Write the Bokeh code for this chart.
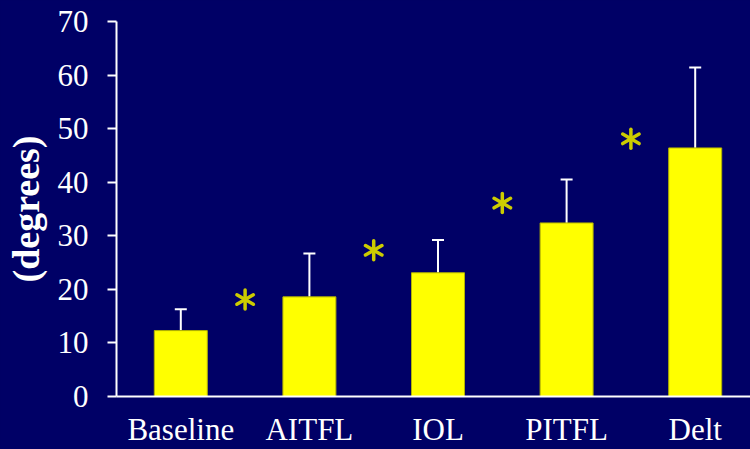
from bokeh.plotting import figure
from bokeh.models import (ColumnDataSource, Range1d, FixedTicker, Whisker, TeeHead,
                          GlobalInlineStyleSheet)
from bokeh.embed import file_html
from bokeh.resources import INLINE

# ---- data ----
categories = ["Baseline", "AITFL", "IOL", "PITFL", "Delt"]
means = [12.3, 18.6, 23.1, 32.4, 46.4]
sd_upper = [16.3, 26.7, 29.2, 40.5, 61.4]
sig_between = [1, 2, 3, 4]          # asterisks sit between neighbouring bars
sig_level = [18.1, 27.3, 36.1, 48.1]
y_ticks = [0, 10, 20, 30, 40, 50, 60, 70]

BG = "#000066"
FONT = "Liberation Serif"
STAR = "#cccc00"

xs = [i + 0.5 for i in range(len(categories))]
src = ColumnDataSource(dict(x=xs, top=means, upper=sd_upper))
sig_src = ColumnDataSource(dict(x=sig_between, y=sig_level))

p = figure(width=750, height=449, output_backend="svg", toolbar_location=None,
           x_range=Range1d(0, 4.93), y_range=Range1d(0, 70),
           background_fill_color=BG, border_fill_color=BG,
           min_border_left=116, min_border_right=0, min_border_top=21, min_border_bottom=52)
p.outline_line_color = None
p.grid.visible = False
p.stylesheets = [GlobalInlineStyleSheet(css="html,body{background:%s;overflow:hidden;}" % BG)]

p.vbar(x="x", top="top", width=0.412, source=src, fill_color="#ffff00",
       line_color="#b3b300", line_width=1)

wk = Whisker(base="x", lower="top", upper="upper", source=src, dimension="height",
             line_color="white", line_width=2,
             upper_head=TeeHead(size=12, line_color="white", line_width=2),
             lower_head=None)
p.add_layout(wk)

# six-armed asterisks built from three rotated dashes
for ang in (90, 30, -30):
    p.scatter(x="x", y="y", source=sig_src, marker="dash", size=19, angle=ang,
              angle_units="deg", line_color=STAR, line_width=3.5, line_cap="round")

# x axis
xa = p.xaxis[0]
xa.ticker = FixedTicker(ticks=xs)
xa.major_label_overrides = {x: c for x, c in zip(xs, categories)}
xa.major_tick_out = 0
xa.major_tick_in = 0
xa.minor_tick_line_color = None
xa.axis_line_color = "white"
xa.axis_line_width = 2
xa.major_label_text_font = FONT
xa.major_label_text_font_size = "31px"
xa.major_label_text_color = "white"
xa.major_label_standoff = 15

# y axis
ya = p.yaxis[0]
ya.ticker = FixedTicker(ticks=y_ticks)
ya.major_tick_out = 9
ya.major_tick_in = 0
ya.minor_tick_line_color = None
ya.axis_line_color = "white"
ya.axis_line_width = 2
ya.major_tick_line_color = "white"
ya.major_tick_line_width = 2
ya.major_label_text_font = FONT
ya.major_label_text_font_size = "31px"
ya.major_label_text_color = "white"
ya.major_label_standoff = 19
ya.axis_label = "(degrees)"
ya.axis_label_text_font = FONT
ya.axis_label_text_font_size = "38px"
ya.axis_label_text_font_style = "bold"
ya.axis_label_text_color = "white"
ya.axis_label_standoff = 8

open("out.html", "w").write(file_html(p, INLINE))
